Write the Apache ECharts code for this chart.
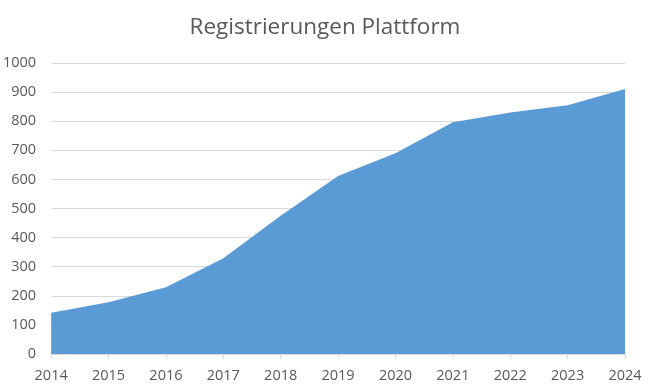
<!DOCTYPE html>
<html><head><meta charset="utf-8">
<script src="https://cdn.jsdelivr.net/npm/echarts@6/dist/echarts.min.js"></script>
<style>html,body{margin:0;padding:0;background:#fff}#c{width:650px;height:391px}</style>
</head><body><div id="c"></div>
<script>
const years = ['2014','2015','2016','2017','2018','2019','2020','2021','2022','2023','2024'];
const registrations = [142, 178, 229, 329, 475, 612, 690, 796, 830, 855, 911];
const title = 'Registrierungen Plattform';

const chart = echarts.init(document.getElementById('c'));
chart.setOption({
  animation: false,
  title: {
    text: title, left: 'center', top: 11,
    textStyle: { fontFamily: 'Open Sans', fontSize: 22.5, fontWeight: 'normal', color: '#595959' }
  },
  grid: { left: 51, right: 25, top: 63, bottom: 37 },
  xAxis: {
    type: 'category', data: years, boundaryGap: false,
    axisLine: { lineStyle: { color: '#d9d9d9' } },
    axisTick: { show: true, length: 5, lineStyle: { color: '#d9d9d9' } },
    axisLabel: { color: '#595959', fontFamily: 'Open Sans', fontSize: 14.5, margin: 14 }
  },
  yAxis: {
    type: 'value', min: 0, max: 1000, interval: 100,
    axisLine: { show: false }, axisTick: { show: false },
    splitLine: { lineStyle: { color: '#d9d9d9' } },
    axisLabel: { color: '#595959', fontFamily: 'Open Sans', fontSize: 14.5, margin: 15,
      formatter: v => String(v) }
  },
  series: [{
    type: 'line', data: registrations, symbol: 'none',
    lineStyle: { width: 0 }, areaStyle: { color: '#5b9bd5', opacity: 1 }
  }]
});
</script></body></html>
